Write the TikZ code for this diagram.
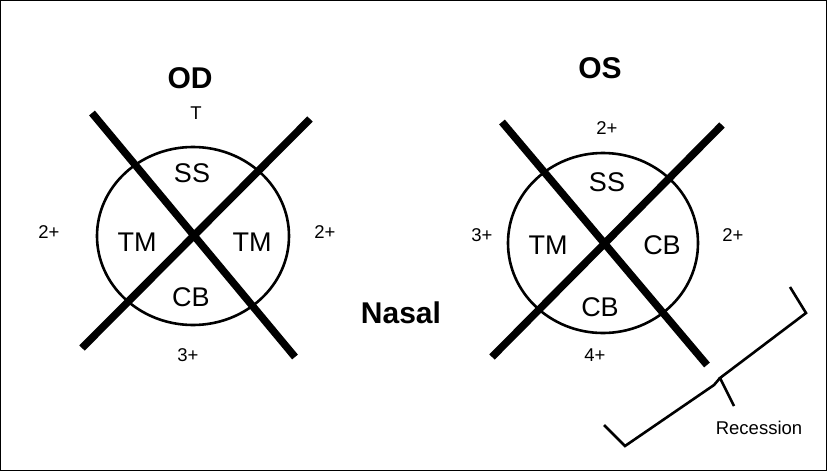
\documentclass[tikz,border=0pt]{standalone}
\usepackage{fontspec}
\setmainfont{Liberation Sans}
\usetikzlibrary{shapes.geometric}
\begin{document}
\begin{tikzpicture}[x=1pt,y=-1pt,
  eye/.style={draw,ellipse,line width=2.6pt,inner sep=0pt},
  bar/.style={line width=7.5pt},
  zone/.style={font=\fontsize{27}{30}\selectfont},
  grade/.style={font=\fontsize{18.5}{20}\selectfont},
  heading/.style={font=\fontsize{30}{32}\selectfont\bfseries},
  bracket/.style={line width=2.6pt,line join=miter}]
\useasboundingbox (0,0) rectangle (827,471);
\draw[line width=1pt] (0.8,0.8) rectangle (826.2,470.2);

% right eye (OD)
\node[heading] (od) at (190,78) {OD};
\node[eye,minimum width=192pt,minimum height=178pt] (odc) at (193,236) {};
\coordinate (od1a) at (92,113);  \coordinate (od1b) at (295,357);
\coordinate (od2a) at (310,119); \coordinate (od2b) at (82,348);
\draw[bar] (od1a) -- (od1b);
\draw[bar] (od2a) -- (od2b);
\node[grade] (odT) at (196,113) {T};
\node[zone] (odSS) at (192,173) {SS};
\node[zone] (odTMl) at (137,242) {TM};
\node[zone] (odTMr) at (252,242) {TM};
\node[zone] (odCB) at (191,297) {CB};
\node[grade] (odL) at (49,232) {2+};
\node[grade] (odR) at (325,232) {2+};
\node[grade] (odB) at (188,355) {3+};

% left eye (OS)
\node[heading] (os) at (600,68) {OS};
\node[eye,minimum width=190pt,minimum height=180pt] (osc) at (603,243) {};
\coordinate (os1a) at (502,122); \coordinate (os1b) at (707,365);
\coordinate (os2a) at (722,125); \coordinate (os2b) at (492,357);
\draw[bar] (os1a) -- (os1b);
\draw[bar] (os2a) -- (os2b);
\node[grade] (osT) at (607,128) {2+};
\node[zone] (osSS) at (607,182) {SS};
\node[zone] (osTM) at (548,245) {TM};
\node[zone] (osCBr) at (662,245) {CB};
\node[zone] (osCBb) at (600,307) {CB};
\node[grade] (osL) at (482,235) {3+};
\node[grade] (osR) at (733,235) {2+};
\node[grade] (osB) at (595,355) {4+};

\node[heading] (nasal) at (401,313) {Nasal};

% recession bracket
\coordinate (br1) at (790,287);
\coordinate (br2) at (806,313);
\coordinate (brtip) at (720,378);
\coordinate (brdown) at (734,406);
\coordinate (br3) at (714,385);
\coordinate (br4) at (625,446);
\coordinate (br5) at (604,425);
\draw[bracket] (br1) -- (br2) -- (brtip) -- (brdown);
\draw[bracket] (brtip) -- (br3) -- (br4) -- (br5);
\node[grade] (rec) at (759,428) {Recession};
\end{tikzpicture}
\end{document}
